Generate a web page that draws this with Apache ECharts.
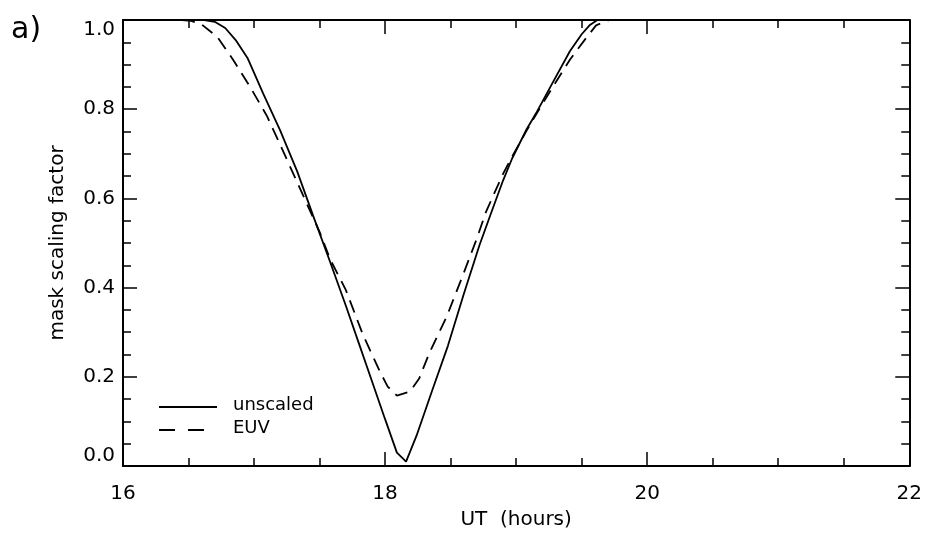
<!DOCTYPE html>
<html>
<head>
<meta charset="utf-8">
<script src="https://cdn.jsdelivr.net/npm/echarts@6/dist/echarts.min.js"></script>
<style>
  html, body { margin: 0; padding: 0; background: #fff; }
  #main { width: 925px; height: 535px; }
</style>
</head>
<body>
<div id="main"></div>
<script>
// 数据：UT 小时 和 mask scaling factor
var unscaledX = [16.50, 16.62, 16.70, 16.78, 16.86, 16.95, 17.07, 17.20, 17.33, 17.45, 17.58, 17.70, 17.80, 17.90, 18.00, 18.09, 18.16,
                 18.24, 18.36, 18.48, 18.60, 18.72, 18.80, 18.90, 18.97, 19.08, 19.16, 19.28, 19.41, 19.50, 19.56, 19.62, 19.70];
var unscaledY = [1.000, 1.000, 0.996, 0.982, 0.955, 0.915, 0.835, 0.752, 0.660, 0.562, 0.458, 0.360, 0.275, 0.190, 0.105, 0.030, 0.010,
                 0.068, 0.170, 0.270, 0.385, 0.495, 0.560, 0.640, 0.690, 0.755, 0.795, 0.860, 0.930, 0.968, 0.988, 1.000, 1.000];

var euvX = [16.45, 16.52, 16.60, 16.72, 16.84, 16.97, 17.10, 17.20, 17.30, 17.40, 17.50, 17.58, 17.70, 17.83, 17.96, 18.02, 18.09,
            18.19, 18.26, 18.34, 18.47, 18.59, 18.70, 18.77, 18.90, 18.97, 19.08, 19.16, 19.28, 19.41, 19.54, 19.61, 19.71, 19.80];
var euvY = [1.000, 0.998, 0.990, 0.962, 0.911, 0.850, 0.784, 0.720, 0.655, 0.590, 0.525, 0.464, 0.395, 0.295, 0.212, 0.178, 0.158,
            0.167, 0.196, 0.255, 0.335, 0.425, 0.510, 0.570, 0.655, 0.694, 0.752, 0.792, 0.850, 0.911, 0.962, 0.988, 1.000, 1.000];

var xTicks = [16, 18, 20, 22];
var yTicks = [0.0, 0.2, 0.4, 0.6, 0.8, 1.0];

function pairs(xs, ys) {
    return xs.map(function (x, i) { return [x, ys[i]]; });
}

var font = 'DejaVu Sans';
var myChart = echarts.init(document.getElementById('main'), null, { renderer: 'canvas' });

//坐标轴公共样式
function axisBase(show) {
    return {
        axisLine: { show: true, onZero: false, lineStyle: { color: '#000', width: 2 } },
        axisTick: { show: true, inside: true, length: 14, lineStyle: { color: '#000', width: 1.5 } },
        minorTick: { show: true, splitNumber: 4, length: 8, lineStyle: { color: '#000', width: 1.5 } },
        splitLine: { show: false },
        axisLabel: { show: show }
    };
}

var xBottom = Object.assign(axisBase(true), {
    type: 'value', position: 'bottom',
    min: xTicks[0], max: xTicks[xTicks.length - 1], interval: 2,
    name: 'UT  (hours)', nameLocation: 'middle', nameGap: 44,
    nameTextStyle: { fontFamily: font, fontSize: 20, color: '#000' }
});
xBottom.axisLabel = { show: true, margin: 18, fontFamily: font, fontSize: 20, color: '#000' };

var xTop = Object.assign(axisBase(false), {
    type: 'value', position: 'top',
    min: xTicks[0], max: xTicks[xTicks.length - 1], interval: 2
});

var yLeft = Object.assign(axisBase(true), {
    type: 'value', position: 'left',
    min: yTicks[0], max: yTicks[yTicks.length - 1], interval: 0.2,
    name: 'mask scaling factor', nameLocation: 'middle', nameGap: 55,
    nameTextStyle: { fontFamily: font, fontSize: 20, color: '#000' }
});
yLeft.axisLabel = {
    show: true, margin: 8, fontFamily: font, fontSize: 20, color: '#000',
    verticalAlignMaxLabel: 'top', verticalAlignMinLabel: 'bottom',
    formatter: function (v) { return v.toFixed(1); }
};

var yRight = Object.assign(axisBase(false), {
    type: 'value', position: 'right',
    min: yTicks[0], max: yTicks[yTicks.length - 1], interval: 0.2
});

var option = {
    backgroundColor: '#fff',
    animation: false,
    title: {
        text: 'a)', left: 6, top: 10,
        textStyle: { fontFamily: font, fontSize: 30, fontWeight: 'normal', color: '#000' }
    },
    grid: { left: 123, right: 15, top: 20, bottom: 67 },
    xAxis: [xBottom, xTop],
    yAxis: [yLeft, yRight],
    series: [
        {
            name: 'unscaled', type: 'line', xAxisIndex: 0, yAxisIndex: 0,
            symbol: 'none', smooth: false,
            lineStyle: { color: '#000', width: 1.8 },
            data: pairs(unscaledX, unscaledY)
        },
        {
            name: 'EUV', type: 'line', xAxisIndex: 0, yAxisIndex: 0,
            symbol: 'none', smooth: false,
            lineStyle: { color: '#000', width: 1.8, type: [13, 8] },
            data: pairs(euvX, euvY)
        }
    ],
    //图例
    graphic: [
        { type: 'line', shape: { x1: 159, y1: 407, x2: 217, y2: 407 }, style: { stroke: '#000', lineWidth: 1.8 } },
        { type: 'line', shape: { x1: 159, y1: 430, x2: 204, y2: 430 }, style: { stroke: '#000', lineWidth: 1.8, lineDash: [16, 13] } },
        { type: 'text', left: 233, top: 396, style: { text: 'unscaled', font: '18px "DejaVu Sans"', fill: '#000' } },
        { type: 'text', left: 233, top: 419, style: { text: 'EUV', font: '18px "DejaVu Sans"', fill: '#000' } }
    ]
};

myChart.setOption(option);
</script>
</body>
</html>
